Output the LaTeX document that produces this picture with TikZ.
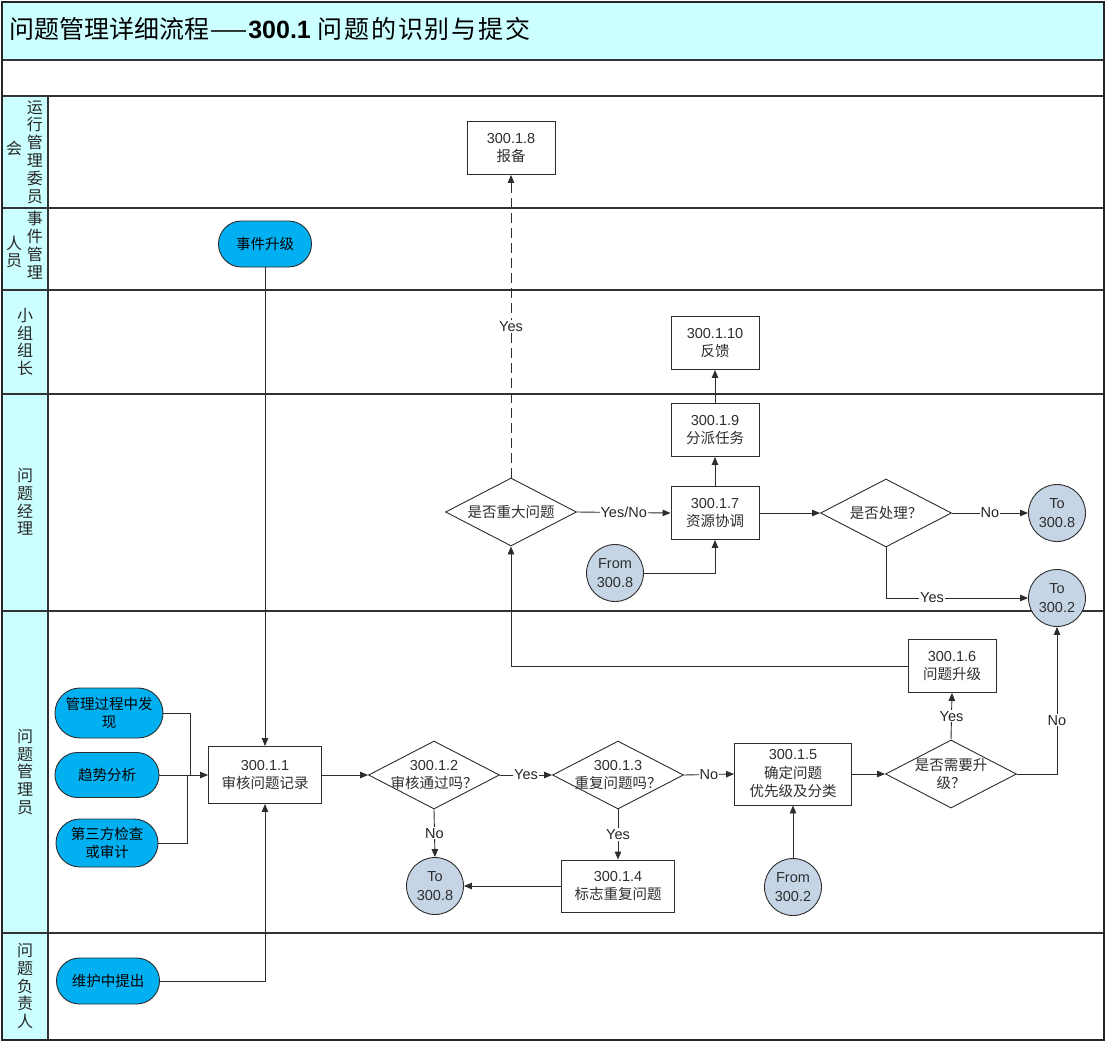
\documentclass[tikz,border=0pt]{standalone}
\usepackage{graphicx}
\usepackage{fontspec}
\setmainfont{Liberation Sans}
\newfontfamily\cjk{Noto Sans CJK SC}
\usetikzlibrary{arrows.meta,shapes.geometric}
\newcommand\zh[1]{{\cjk #1}}
\definecolor{lanecyan}{RGB}{204,255,255}
\definecolor{termcyan}{RGB}{0,176,240}
\definecolor{circblue}{RGB}{198,213,230}
\definecolor{linegray}{RGB}{45,45,45}
\begin{document}
\begin{tikzpicture}[x=1pt,y=-1pt,
  nfont/.style={font=\fontsize{14.5}{18.5}\selectfont, text=black!82},
  box/.style={nfont, draw=linegray, line width=0.9pt, fill=white, minimum width=88, minimum height=53, inner sep=0pt, align=center},
  term/.style={nfont, text=black, draw=linegray, line width=0.9pt, fill=termcyan, inner sep=0pt, align=center},
  conn/.style={nfont, circle, draw=linegray, line width=0.9pt, fill=circblue, minimum size=57, inner sep=0pt, align=center},
  dia/.style={diamond, draw=linegray, line width=0.9pt, fill=white, minimum width=131, minimum height=68, inner sep=0pt},
  dtext/.style={nfont, align=center, inner sep=0pt},
  ln/.style={draw=linegray, line width=0.9pt},
  arr/.style={ln, -{Triangle[length=8pt,width=6.5pt]}},
  lbl/.style={font=\fontsize{14.5}{16}\selectfont, text=black!85, fill=white, inner sep=1pt},
  lanelbl/.style={font=\fontsize{16}{17.8}\selectfont\cjk, align=center, inner sep=0pt, text=black!85},
  laneline/.style={draw=black!80, line width=1.1pt}
]
\useasboundingbox (0,0) rectangle (1106,1042);
% bands
\fill[lanecyan] (2,2) rectangle (1104,60);
\fill[lanecyan] (2,96) rectangle (48,1040);
\draw[laneline] (2,60) -- (1104,60);
\foreach \yy in {96,208,290,394,611,933} \draw[laneline] (2,\yy) -- (1104,\yy);
\draw[laneline] (48,96) -- (48,1040);
\draw[draw=black!85, line width=1.5pt] (2,2) rectangle (1104,1040);
% title
\node[anchor=west, font=\fontsize{25}{29}\selectfont, inner sep=0pt] (title) at (9,29) {\zh{问题管理详细流程}\scalebox{1.75}[1]{\zh{—}}\textbf{300.1} {\cjk\addfontfeatures{LetterSpace=7}问题的识别与提交}};
% lane labels
\node[lanelbl] (l1a) at (35,152) {运\\行\\管\\理\\委\\员};
\node[lanelbl] (l1b) at (14,148) {会};
\node[lanelbl] (l2a) at (35,245) {事\\件\\管\\理};
\node[lanelbl] (l2b) at (14,252) {人\\员};
\node[lanelbl] (l3) at (25,342) {小\\组\\组\\长};
\node[lanelbl] (l4) at (25,502) {问\\题\\经\\理};
\node[lanelbl] (l5) at (25,772) {问\\题\\管\\理\\员};
\node[lanelbl] (l6) at (25,986) {问\\题\\负\\责\\人};
% nodes
\node[box] (r8) at (511,148) {300.1.8\\\zh{报备}};
\node[term, minimum width=93, minimum height=46, rounded corners=22.9pt] (ev) at (265,244) {\zh{事件升级}};
\node[box] (r10) at (715,343) {300.1.10\\\zh{反馈}};
\node[box] (r9) at (715,430) {300.1.9\\\zh{分派任务}};
\node[dia] (dz) at (511,512) {};
\node[dtext] at (dz) {\zh{是否重大问题}};
\node[box] (r7) at (715,513) {300.1.7\\\zh{资源协调}};
\node[dia] (dc) at (886,513) {};
\node[dtext] at (dc) {\zh{是否处理？}};
\node[conn] (t88a) at (1057,513) {To\\300.8};
\node[conn] (t82) at (1057,598) {To\\300.2};
\node[conn] (f88) at (615,573) {From\\300.8};
\node[box] (r6) at (952,666) {300.1.6\\\zh{问题升级}};
\node[term, minimum width=108, minimum height=50, rounded corners=24.9pt] (g1) at (109,713) {\zh{管理过程中发}\\\zh{现}};
\node[term, minimum width=104, minimum height=45, rounded corners=22.4pt] (g2) at (107,775) {\zh{趋势分析}};
\node[term, minimum width=102, minimum height=48, rounded corners=23.9pt] (g3) at (107,843) {\zh{第三方检查}\\\zh{或审计}};
\node[box, minimum width=113, minimum height=57] (r1) at (265,775) {300.1.1\\\zh{审核问题记录}};
\node[dia] (d2) at (434,775) {};
\node[dtext] at (d2) {300.1.2\\\zh{审核通过吗？}};
\node[dia] (d3) at (618,775) {};
\node[dtext] at (d3) {300.1.3\\\zh{重复问题吗？}};
\node[box, minimum width=117, minimum height=62] (r5) at (793,774) {300.1.5\\\zh{确定问题}\\\zh{优先级及分类}};
\node[dia] (d5) at (951,774) {};
\node[dtext] at (d5) {\zh{是否需要升}\\\zh{级？}};
\node[conn] (t88b) at (435,886) {To\\300.8};
\node[box, minimum width=113, minimum height=52] (r4) at (618,886) {300.1.4\\\zh{标志重复问题}};
\node[conn] (f82) at (793,887) {From\\300.2};
\node[term, minimum width=103, minimum height=46, rounded corners=22.9pt] (wh) at (108,981) {\zh{维护中提出}};
% connectors
\coordinate (j1) at (190,775);
\coordinate (j3) at (187,775);
\draw[arr] (ev.south) -- (r1.north);
\draw[arr] (wh.east) -| (r1.south);
\draw[ln] (g1.east) -| (j1);
\draw[ln] (g3.east) -| (j3);
\draw[arr] (g2.east) -- (r1.west);
\draw[arr] (r1.east) -- (d2.west);
\draw[arr] (d2.east) -- node[lbl]{Yes} (d3.west);
\draw[arr] (d2.south) -- node[lbl]{No} (t88b.north);
\draw[arr] (d3.east) -- node[lbl]{No} (r5.west);
\draw[arr] (d3.south) -- node[lbl]{Yes} (r4.north);
\draw[arr] (r4.west) -- (t88b.east);
\draw[arr] (f82.north) -- (r5.south);
\draw[arr] (r5.east) -- (d5.west);
\draw[arr] (d5.north) -- node[lbl]{Yes} (r6.south);
\draw[arr] (d5.east) -| node[lbl,pos=0.683]{No} (t82.south);
\draw[arr] (r6.west) -| (dz.south);
\draw[arr, dash pattern=on 10pt off 5pt] (dz.north) -- node[lbl]{Yes} (r8.south);
\draw[arr] (dz.east) -- node[lbl]{Yes/No} (r7.west);
\draw[arr] (f88.east) -| (r7.south);
\draw[arr] (r7.north) -- (r9.south);
\draw[arr] (r9.north) -- (r10.south);
\draw[arr] (r7.east) -- (dc.west);
\draw[arr] (dc.east) -- node[lbl]{No} (t88a.west);
\draw[arr] (dc.south) |- node[lbl,pos=0.662]{Yes} (t82.west);
\end{tikzpicture}
\end{document}
